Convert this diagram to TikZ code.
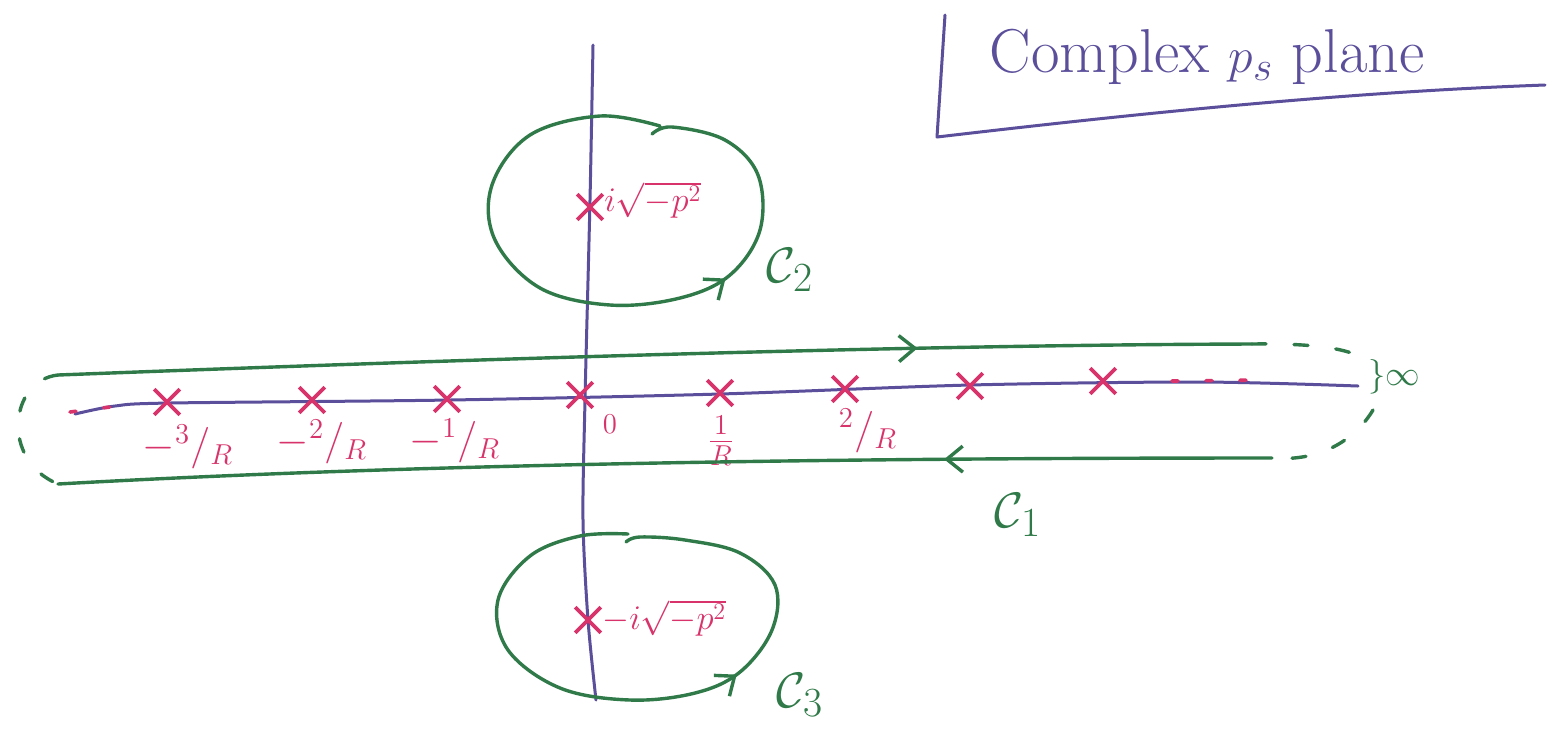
\documentclass[tikz,border=0pt]{standalone}
\usetikzlibrary{arrows.meta,decorations.markings,shapes.misc}
\definecolor{ink}{HTML}{5B4F9B}
\definecolor{grn}{HTML}{2F7A48}
\definecolor{pol}{HTML}{D8336A}
\tikzset{
  axisline/.style={draw=ink, line width=1.5pt, line cap=round, line join=round},
  contour/.style={grn, draw=grn, line width=1.7pt, line cap=round, line join=round},
  gdash/.style={draw=grn, line width=1.7pt, line cap=round, dash pattern=on 7pt off 14pt},
  rdots/.style={draw=pol, line width=1.8pt, line cap=round, dash pattern=on 3pt off 14pt},
  pole/.style={cross out, draw=pol, line width=1.8pt, minimum size=11pt, inner sep=0pt},
  plabel/.style={text=pol, inner sep=0pt, font=\fontsize{17}{20}\selectfont},
  rlabel/.style={text=pol, inner sep=0pt, font=\fontsize{20}{24}\selectfont},
  clabel/.style={text=grn, inner sep=0pt, font=\fontsize{30}{34}\selectfont},
  midarrow/.style={postaction={decorate}, decoration={markings,
      mark=at position #1 with {\arrow{Straight Barb[length=8pt,width=13pt,line width=1.7pt]}}}},
}
\begin{document}
\begin{tikzpicture}[x=0.5pt,y=-0.5pt]
\path[use as bounding box, fill=white] (0,0) rectangle (1557,736);

% title with L-shaped rule
\node[text=ink, inner sep=0pt, font=\fontsize{31}{36}\selectfont] (title) at (1207,57) {Complex $p_s$ plane};
\coordinate (bartop) at (945,15);
\coordinate (corner) at (937,137);
\coordinate (ruleend) at (1545,85);
\draw[axisline] (bartop) -- (corner) .. controls (1150,112) and (1350,92) .. (ruleend);

% imaginary axis
\draw[axisline] plot[smooth] coordinates {(593,45) (590,200) (585,400) (583,520) (588,620) (596,700)};

% real axis
\draw[axisline] plot[smooth, tension=0.5] coordinates {(75,414) (115,406) (170,403) (450,400) (720,394) (970,385) (1200,382) (1358,386)};
\draw[rdots] (70,412) -- (126,405);
\draw[rdots] (1172,381) -- (1262,380);

% poles on the real axis
\node[pole] (pm3) at (167,402) {};
\node[pole] (pm2) at (312,400) {};
\node[pole] (pm1) at (447,399) {};
\node[pole] (p0)  at (580,395) {};
\node[pole] (pp1) at (720,393) {};
\node[pole] (pp2) at (845,389) {};
\node[pole] (pp3) at (970,386) {};
\node[pole] (pp4) at (1103,381) {};

\node[rlabel] (lm3) at (188,447) {$-{}^{3}/_{R}$};
\node[rlabel] (lm2) at (322,442) {$-{}^{2}/_{R}$};
\node[rlabel] (lm1) at (455,441) {$-{}^{1}/_{R}$};
\node[text=pol, inner sep=0pt, font=\fontsize{14}{16}\selectfont] (l0) at (610,424) {$0$};
\node[rlabel] (lp1) at (721,441) {$\frac{1}{R}$};
\node[rlabel] (lp2) at (868,431) {${}^{2}/_{R}$};

% poles on the imaginary axis
\node[pole] (pup) at (590,207) {};
\node[plabel, anchor=west] (lup) at (604,200) {$i\sqrt{-p^2}$};
\node[pole] (pdn) at (588,620) {};
\node[plabel, anchor=west] (ldn) at (602,618) {$-i\sqrt{-p^2}$};

% contour C1
\coordinate (c1tl) at (58,375);
\coordinate (c1tr) at (1252,344);
\coordinate (c1br) at (1272,458);
\coordinate (c1bl) at (58,484);
\draw[contour, midarrow=0.72] (c1tl) .. controls (450,360) and (900,345) .. (c1tr);
\draw[contour, midarrow=0.27] (c1br) .. controls (900,458) and (450,462) .. (c1bl);
\draw[gdash] (c1tr) .. controls (1320,343) and (1350,350) .. (1362,358);
\draw[gdash] (1373,410) .. controls (1355,440) and (1320,462) .. (c1br);
\draw[gdash] (c1tl) .. controls (10,380) and (0,460) .. (c1bl);
\node[text=grn, inner sep=0pt, font=\fontsize{17}{20}\selectfont] (inf) at (1394,377) {$\}\infty$};
\node[clabel] (c1) at (1018,515) {$\mathcal{C}_1$};

% contour C2
\draw[contour, midarrow=0.68] plot[smooth, tension=0.6] coordinates {(660,126) (600,116) (530,135) (492,185) (495,240) (540,288) (610,305) (680,298) (730,275) (760,230) (758,175) (725,140) (672,127) (652,134)};
\node[clabel] (c2) at (790,270) {$\mathcal{C}_2$};

% contour C3
\draw[contour, midarrow=0.63] plot[smooth, tension=0.6] coordinates {(628,534) (580,536) (530,556) (498,600) (508,650) (560,688) (630,700) (695,693) (740,672) (772,630) (775,585) (740,553) (685,540) (640,537) (626,542)};
\node[clabel] (c3) at (800,695) {$\mathcal{C}_3$};
\end{tikzpicture}
\end{document}
